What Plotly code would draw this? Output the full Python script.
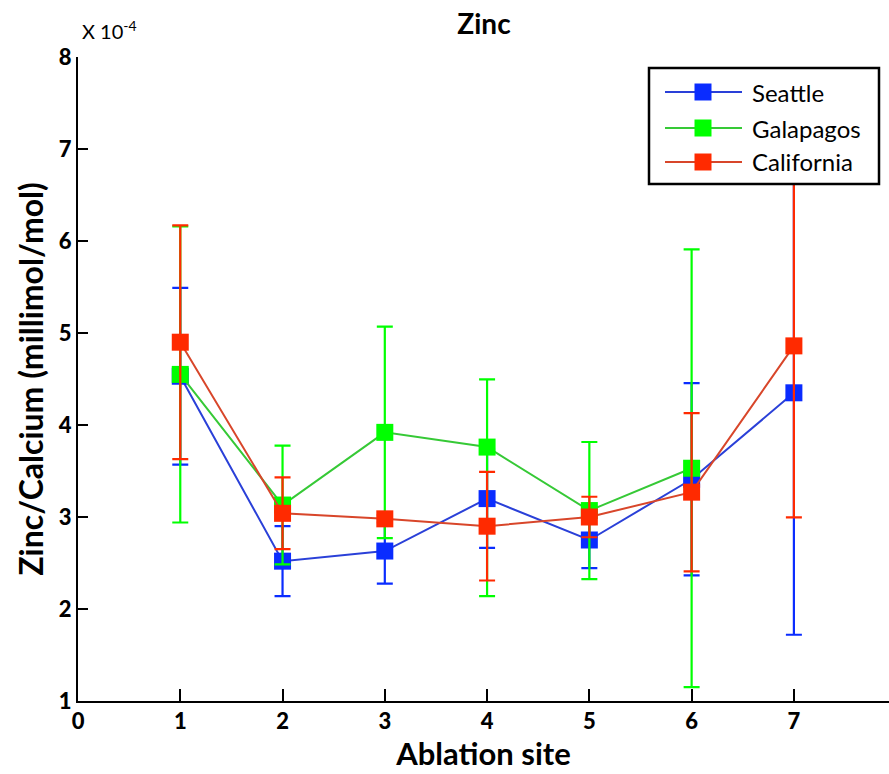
import plotly.graph_objects as go

# Zinc/Calcium ratios (x 10^-4 millimol/mol) at each ablation site
sites = [1, 2, 3, 4, 5, 6, 7]

seattle = [4.53, 2.52, 2.63, 3.20, 2.75, 3.41, 4.35]
seattle_err = [0.96, 0.38, 0.355, 0.535, 0.305, 1.045, 2.63]

galapagos = [4.55, 3.13, 3.92, 3.76, 3.07, 3.53, None]
galapagos_err_plus = [1.61, 0.645, 1.15, 0.735, 0.745, 2.38, None]
galapagos_err_minus = [1.61, 0.645, 1.15, 1.62, 0.745, 2.38, None]

california = [4.90, 3.04, 2.98, 2.90, 3.00, 3.27, 4.86]
california_err = [1.27, 0.39, 0.04, 0.59, 0.22, 0.86, 1.865]

x_ticks = [0, 1, 2, 3, 4, 5, 6, 7]
y_ticks = [1, 2, 3, 4, 5, 6, 7, 8]

FONT = "Lato"
W, H = 889, 774
ML, MR, MT, MB = 78, 0, 57, 73
PW, PH = W - ML - MR, H - MT - MB

series = [
    ("Seattle", seattle, seattle_err, seattle_err, "#0a2cff", "#2a40d8"),
    ("Galapagos", galapagos, galapagos_err_plus, galapagos_err_minus, "#00ff00", "#36c936"),
    ("California", california, california_err, california_err, "#ff2a00", "#d8462a"),
]

fig = go.Figure()
for name, vals, ep, em, mcol, lcol in series:
    fig.add_trace(go.Scatter(
        x=sites, y=vals, name=name, mode="lines+markers",
        line=dict(color=lcol, width=2),
        marker=dict(symbol="square", size=17, color=mcol, line=dict(width=0)),
        error_y=dict(type="data", symmetric=False, array=ep, arrayminus=em,
                     color=mcol, thickness=2.2, width=8),
        connectgaps=False, showlegend=False,
    ))


def px_x(px):
    return (px - ML) / PW


def px_y(py):
    return (H - MB - py) / PH


# Boxed legend in the upper right corner, drawn over the data
shapes = [dict(type="rect", xref="paper", yref="paper", layer="above",
               x0=px_x(649), x1=px_x(879), y0=px_y(184), y1=px_y(68),
               fillcolor="white", line=dict(color="black", width=2.5))]
annotations = []
row_y = [92, 128, 162]
for (name, _, _, _, mcol, lcol), ry in zip(series, row_y):
    shapes.append(dict(type="line", xref="paper", yref="paper", layer="above",
                       x0=px_x(665), x1=px_x(742), y0=px_y(ry), y1=px_y(ry),
                       line=dict(color=lcol, width=2)))
    shapes.append(dict(type="rect", xref="paper", yref="paper", layer="above",
                       x0=px_x(703 - 8.5), x1=px_x(703 + 8.5),
                       y0=px_y(ry + 8.5), y1=px_y(ry - 8.5),
                       fillcolor=mcol, line=dict(width=0)))
    annotations.append(dict(text=name, xref="paper", yref="paper",
                            x=px_x(750), y=px_y(ry), xanchor="left", yanchor="middle",
                            showarrow=False, font=dict(size=24, family=FONT, color="black")))

annotations.append(dict(
    text="X 10<sup>-4</sup>", xref="paper", yref="paper",
    x=px_x(80), y=px_y(45), xanchor="left", yanchor="bottom",
    showarrow=False, font=dict(size=20, family=FONT, color="black"),
))

fig.update_layout(
    width=W, height=H,
    margin=dict(l=ML, r=MR, t=MT, b=MB),
    paper_bgcolor="white", plot_bgcolor="white",
    font=dict(family=FONT, color="black"),
    title=dict(text="<b>Zinc</b>", x=px_x(484), xref="paper", y=1 - 24 / H,
               yref="container", xanchor="center", yanchor="middle",
               font=dict(size=28, family=FONT)),
    shapes=shapes, annotations=annotations,
    showlegend=False,
)

fig.update_xaxes(
    range=[0, 7.93], tickvals=x_ticks, ticktext=[str(v) for v in x_ticks],
    showline=True, linecolor="black", linewidth=2, mirror=False,
    ticks="inside", ticklen=12, tickwidth=1.5, tickcolor="black",
    showgrid=False, zeroline=False,
    tickfont=dict(size=22, family=FONT + " Black", color="black"),
    title=dict(text="<b>Ablation site</b>", font=dict(size=31, family=FONT), standoff=6),
)
fig.update_yaxes(
    range=[1, 8], tickvals=y_ticks, ticktext=[str(v) for v in y_ticks],
    showline=True, linecolor="black", linewidth=2, mirror=False,
    ticks="inside", ticklen=10, tickwidth=1.5, tickcolor="black",
    showgrid=False, zeroline=False,
    tickfont=dict(size=22, family=FONT + " Black", color="black"),
    title=dict(text="<b>Zinc/Calcium (millimol/mol)</b>", font=dict(size=32, family=FONT), standoff=6),
)

fig.write_html("out.html")
